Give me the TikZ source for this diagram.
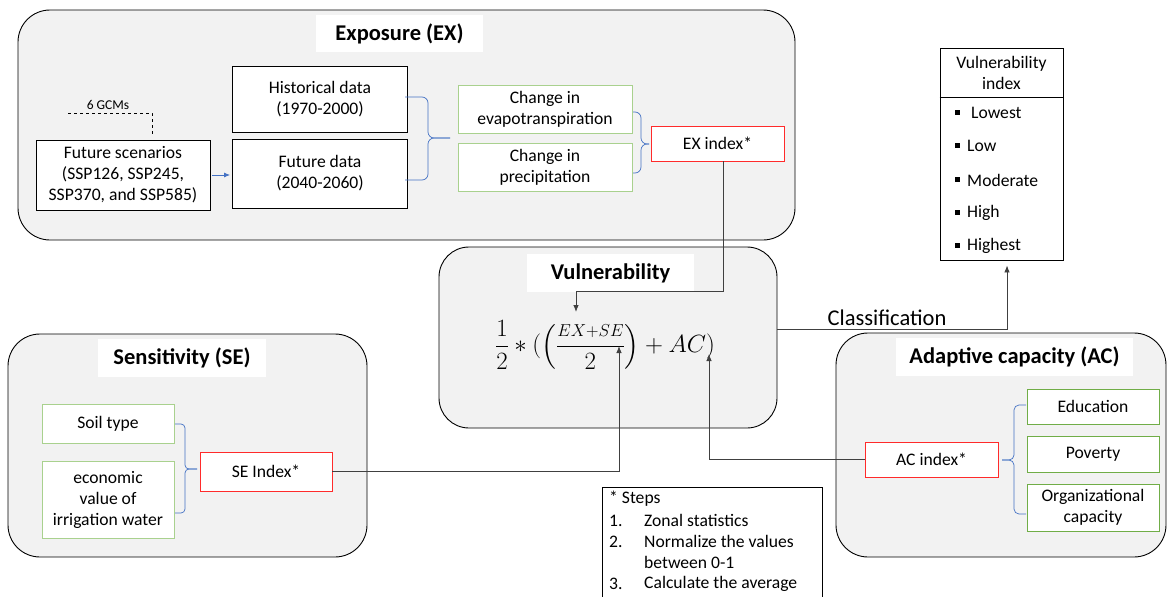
\documentclass[tikz,border=0pt]{standalone}
\usepackage{fontspec}
\usepackage{amsmath}
\setmainfont{Carlito}
\usetikzlibrary{arrows.meta,calc}
\definecolor{panelgray}{HTML}{F2F2F2}
\definecolor{lgreen}{HTML}{A9D18E}
\definecolor{dgreen}{HTML}{70AD47}
\definecolor{bred}{HTML}{FF2B2B}
\definecolor{bblue}{HTML}{4472C4}
\definecolor{conncol}{HTML}{404040}
\begin{document}
\begin{tikzpicture}[x=1pt,y=-1pt,
  panel/.style={draw=black, line width=0.9pt, fill=panelgray, rounded corners=32pt, inner sep=0},
  ptitle/.style={fill=white, inner sep=0, font=\fontsize{22.5}{26}\selectfont\bfseries, align=center},
  bbox/.style={draw=black, line width=0.9pt, fill=white, inner sep=0, align=center, font=\fontsize{17.6}{21}\selectfont},
  gbox/.style={bbox, draw=lgreen},
  ggbox/.style={bbox, draw=dgreen},
  rbox/.style={bbox, draw=bred},
  txt/.style={inner sep=0, font=\fontsize{17.6}{21}\selectfont},
  conn/.style={draw=conncol, line width=0.8pt},
  tip/.style={-{Latex[length=7pt,width=5.5pt]}},
  bracel/.style={draw=bblue, line width=0.7pt, rounded corners=6pt},
  bul/.style={fill=black, minimum size=5pt, inner sep=0},
]
\useasboundingbox (0,0) rectangle (1168,597);

% panels
\node[panel, minimum width=777, minimum height=230] (expo) at (406.5,125) {};
\node[panel, minimum width=338, minimum height=181, rounded corners=30pt] (vul) at (608,337.5) {};
\node[panel, minimum width=359, minimum height=223] (sens) at (187.5,445.5) {};
\node[panel, minimum width=330, minimum height=224] (adap) at (1001,445) {};

\node[ptitle, minimum width=167, minimum height=37] (expoT) at (399.5,33.5) {Exposure (EX)};
\node[ptitle, minimum width=167, minimum height=38] (vulT) at (610.5,273) {Vulnerability};
\node[ptitle, minimum width=168, minimum height=38] (sensT) at (182,358) {Sensitivity (SE)};
\node[ptitle, minimum width=237, minimum height=38] (adapT) at (1014.5,357) {Adaptive capacity (AC)};

% exposure content
\node[bbox, minimum width=174, minimum height=70] (fut) at (123,175) {Future scenarios\\(SSP126, SSP245,\\SSP370, and SSP585)};
\node[bbox, minimum width=175, minimum height=66] (hist) at (320,99) {Historical data\\(1970-2000)};
\node[bbox, minimum width=175, minimum height=69] (futd) at (320,173.5) {Future data\\(2040-2060)};
\node[gbox, minimum width=174, minimum height=48] (evap) at (545,109) {Change in\\evapotranspiration};
\node[gbox, minimum width=174, minimum height=48] (prec) at (545,167) {Change in\\precipitation};
\node[rbox, minimum width=133, minimum height=35] (exi) at (717.5,143.5) {EX index*};

\node[inner sep=0, font=\fontsize{13.5}{15}\selectfont] (gcm) at (108,105) {6 GCMs};
\coordinate (gcmL) at (68,113);
\draw[dashed, line width=0.7pt] (gcmL) -- ([xshift=29pt]fut.north |- gcmL) -- ([xshift=29pt,yshift=3pt]fut.north);
\draw[draw=bblue, line width=0.8pt, -{Latex[length=6pt,width=5pt]}, shorten <=2pt, shorten >=2pt] (fut.east) -- (fut.east -| futd.west);

\draw[bracel] (405,97) -- (428,97) -- (428,138) -- (450,138);
\draw[bracel] (405,180) -- (428,180) -- (428,138) -- (450,138);
\draw[bracel] (633,112) -- (641,112) -- (641,144) -- (649,144);
\draw[bracel] (633,173) -- (641,173) -- (641,144) -- (649,144);

% sensitivity content
\node[gbox, minimum width=132, minimum height=39] (soil) at (108,423.5) {Soil type};
\node[gbox, minimum width=132, minimum height=77] (econ) at (108,499.5) {economic\\value of\\irrigation water};
\node[rbox, minimum width=132, minimum height=39] (sei) at (266,471.5) {SE Index*};
\draw[bracel, rounded corners=4pt] (175,424) -- (185,424) -- (185,469) -- (197,469);
\draw[bracel, rounded corners=4pt] (175,513) -- (185,513) -- (185,469) -- (197,469);

% adaptive content
\node[rbox, minimum width=133, minimum height=35] (aci) at (931.5,459.5) {AC index*};
\node[ggbox, minimum width=132, minimum height=35] (edu) at (1093,406.5) {Education};
\node[ggbox, minimum width=132, minimum height=36] (pov) at (1093,454) {Poverty};
\node[ggbox, minimum width=132, minimum height=47] (org) at (1093,507.5) {Organizational\\capacity};
\draw[bracel, rounded corners=5pt] (1026,405) -- (1014,405) -- (1014,460) -- (1002,460);
\draw[bracel, rounded corners=5pt] (1026,514) -- (1014,514) -- (1014,460) -- (1002,460);

% formula
\node[inner sep=0] (form) at (605,345) {\fontsize{24}{28}\selectfont $\dfrac{1}{2}\ast(\left(\dfrac{\scriptstyle EX+SE}{2}\right)+AC)$};
\coordinate (tEX) at (576,312);
\coordinate (tSE) at (619,346);
\coordinate (tAC) at (709,354);

% vulnerability index
\node[bbox, minimum width=123, minimum height=212] (vidx) at (1001.5,154) {};
\draw[line width=0.9pt] (vidx.west |- 0,97) -- (vidx.east |- 0,97);
\node[txt, align=center] (vhead) at (1001.5,73) {Vulnerability\\index};
\node[bul] (b1) at (957,112) {};
\node[bul] (b2) at (957,145) {};
\node[bul] (b3) at (957,179) {};
\node[bul] (b4) at (957,212) {};
\node[bul] (b5) at (957,245) {};
\node[txt, anchor=west] (l1) at (971,113) {Lowest};
\node[txt, anchor=west] (l2) at (967,146) {Low};
\node[txt, anchor=west] (l3) at (967,180) {Moderate};
\node[txt, anchor=west] (l4) at (967,213) {High};
\node[txt, anchor=west] (l5) at (967,246) {Highest};

% steps
\node[draw=black, line width=0.9pt, fill=white, minimum width=220, minimum height=110, anchor=north west, inner sep=0] (steps) at (602,487) {};
\node[txt, anchor=west] (s0) at (609,499) {* Steps};
\node[txt, anchor=west] (n1) at (609,520.5) {1.};
\node[txt, anchor=west] (s1) at (644,520.5) {Zonal statistics};
\node[txt, anchor=west] (n2) at (609,541.5) {2.};
\node[txt, anchor=west] (s2) at (644,541.5) {Normalize the values};
\node[txt, anchor=west] (s2b) at (644,562.5) {between 0-1};
\node[txt, anchor=west] (n3) at (609,584) {3.};
\node[txt, anchor=west] (s3) at (644,584) {Calculate the average};

% connectors
\draw[conn, tip] ([xshift=5.5pt]exi.south) |- (tEX |- 0,291) -- (tEX);
\draw[conn, tip] (sei.east) -| (tSE);
\draw[conn, tip] (aci.west) -| (tAC);
\draw[conn, tip, shorten >=5pt] ([yshift=8.5pt]vul.east) -| ([xshift=5.5pt]vidx.south);
\node[inner sep=0, font=\fontsize{22.5}{26}\selectfont] (cls) at (887,318) {Classification};
\end{tikzpicture}
\end{document}
